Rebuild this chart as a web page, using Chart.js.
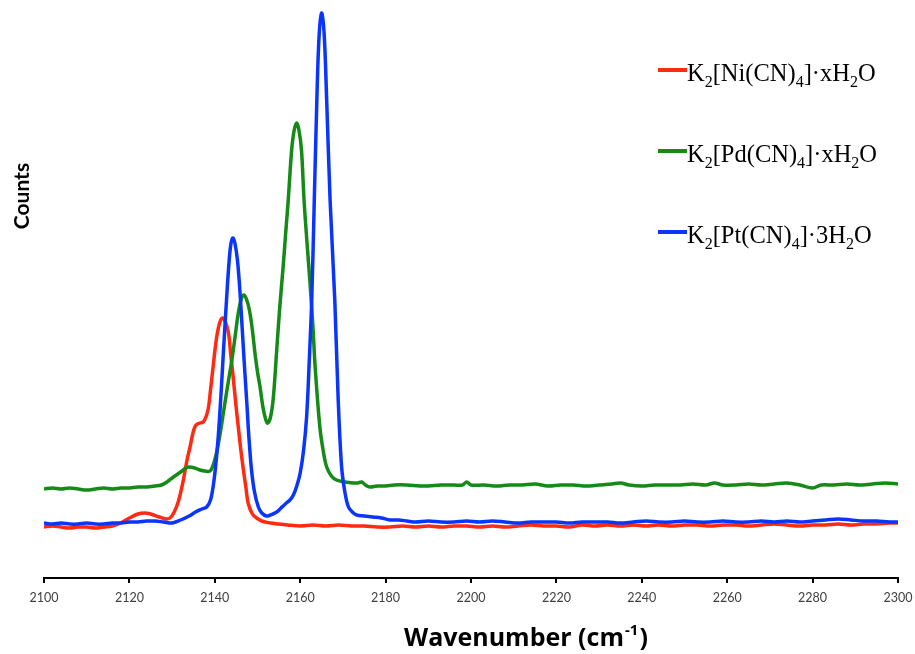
<!DOCTYPE html>
<html>
<head>
<meta charset="utf-8">
<script src="https://cdn.jsdelivr.net/npm/chart.js@4.4.1/dist/chart.umd.min.js"></script>
<style>
  html, body { margin: 0; padding: 0; background: #fff; }
  #wrap { width: 915px; height: 654px; }
</style>
</head>
<body>
<div id="wrap"><canvas id="spectrum" width="915" height="654"></canvas></div>
<script>
// [wavenumber, counts]
const niSpectrum = [
  [2100,51],[2102,52],[2104,51],[2106,50],[2108,51],[2110,51],[2112,50],[2114,51],[2116,52],[2118,55],
  [2120,60],[2122,64],[2123.5,65],[2125,64],[2127,61],[2128.5,59],[2129.5,60],[2130.5,66],[2131.5,77],
  [2132.5,95],[2133.5,118],[2134.2,131],[2135,147],[2135.6,153],[2136.5,155],[2137.3,156],[2138,162],
  [2138.5,170],[2139,188],[2139.6,211],[2140.1,230],[2140.6,245],[2141.2,256],[2141.8,260],[2142.4,257],
  [2143.2,245],[2143.7,225],[2144.3,201],[2144.9,175],[2145.5,151],[2146.1,128],[2146.7,108],[2147.3,90],
  [2147.8,75],[2148.8,64],[2149.8,60],[2151,57],[2153,55],[2155,54],[2157,53],[2160,52],
  [2163,53],[2166,52],[2169,53],[2172,52],[2175,52],[2178,51],[2181,51],[2184,52],[2187,51],[2190,52],
  [2193,51],[2196,52],[2199,52],[2202,51],[2205,52],[2208,51],[2211,52],[2214,53],[2217,52],[2220,52],
  [2223,51],[2226,53],[2229,52],[2232,53],[2235,52],[2238,53],[2241,52],[2244,53],[2247,52],[2250,53],
  [2253,53],[2256,52],[2259,53],[2262,53],[2265,52],[2268,53],[2271,54],[2274,53],[2277,52],[2280,53],
  [2283,53],[2286,54],[2289,53],[2292,54],[2295,54],[2298,55],[2300,55]
];

const pdSpectrum = [
  [2100,89],[2102,90],[2104,89],[2106,90],[2108,89],[2110,88],[2112,89],[2114,90],[2116,89],[2118,90],
  [2120,90],[2122,91],[2124,91],[2126,92],[2127.5,93],[2128.8,96],[2130.3,101],[2132,106],[2133.2,110],
  [2134,111],[2135.3,110],[2136.5,108],[2137.7,107],[2138.9,107],[2139.7,114],[2140.4,125],[2141.2,143],
  [2142,165],[2143,192],[2144,218],[2144.8,243],[2145.5,265],[2146.2,279],[2146.8,283],[2147.4,279],
  [2148.1,268],[2148.8,248],[2149.4,225],[2150,206],[2150.6,191],[2151.4,168],[2152.3,155],[2153,160],
  [2153.7,180],[2154.5,228],[2155.2,270],[2156,311],[2156.6,345],[2157.2,378],[2158,428],[2158.6,448],
  [2159.2,455],[2159.7,448],[2160.3,428],[2160.9,378],[2161.6,335],[2162.3,295],[2163,250],[2163.5,211],
  [2164.6,151],[2165.4,127],[2166.2,111],[2167.3,102],[2168.5,98],[2170.5,96],[2172.4,95],[2173.5,95],
  [2174.4,96],[2175.3,93],[2176.3,91],[2178,92],[2180,92],[2182,93],[2185,93],[2188,92],[2190,92],
  [2193,93],[2196,93],[2198,93],[2199,96],[2200,93],[2203,93],[2206,92],[2209,93],[2212,93],[2215,94],
  [2218,92],[2221,93],[2224,93],[2227,92],[2230,93],[2233,94],[2235,95],[2237,93],[2240,92],[2243,93],
  [2246,93],[2249,93],[2252,94],[2255,93],[2257,95],[2259,93],[2262,93],[2265,94],[2268,93],[2271,94],
  [2274,95],[2277,93],[2280,90],[2282,93],[2285,93],[2288,94],[2291,93],[2294,94],[2297,95],[2300,94]
];

const ptSpectrum = [
  [2100,55],[2102,54],[2104,55],[2106,54],[2108,54],[2110,55],[2112,54],[2114,54],[2116,55],[2118,55],
  [2120,56],[2122,56],[2124,57],[2126,57],[2128,56],[2130,55],[2132,58],[2134,62],[2135.5,66],[2137,69],
  [2138.1,71],[2139,78],[2139.6,91],[2140.2,112],[2140.8,141],[2141.4,180],[2142,225],[2142.6,268],
  [2143.2,308],[2143.7,332],[2144.2,340],[2144.7,335],[2145.3,318],[2145.8,292],[2146.3,258],[2146.9,215],
  [2147.5,175],[2148,140],[2148.6,108],[2149.3,86],[2150.2,71],[2151,65],[2152.1,62],[2153,63],[2154.5,66],
  [2155.5,70],[2156.5,74],[2157.6,78],[2158.4,83],[2159.2,92],[2160,105],[2160.8,128],[2161.5,161],
  [2162.1,215],[2162.7,278],[2163.3,378],[2163.9,478],[2164.4,540],[2165,565],[2165.6,545],[2166.2,478],
  [2167,378],[2168.1,278],[2168.9,178],[2169.7,111],[2170.5,85],[2171.3,71],[2172.2,66],[2173.2,63],
  [2175,62],[2177,61],[2179,60],[2181,58],[2183,58],[2185,57],[2187,56],[2190,57],[2193,56],[2196,56],
  [2199,57],[2202,56],[2205,57],[2208,56],[2211,55],[2214,56],[2217,56],[2220,56],[2223,55],[2226,56],
  [2229,56],[2232,56],[2235,55],[2238,56],[2241,57],[2244,56],[2247,56],[2250,57],[2253,56],[2256,56],
  [2259,57],[2262,56],[2265,56],[2268,57],[2271,56],[2274,57],[2277,56],[2280,57],[2283,58],[2286,59],
  [2289,58],[2292,57],[2295,57],[2298,56],[2300,56]
];

const seriesNames = ['K2[Ni(CN)4]·xH2O', 'K2[Pd(CN)4]·xH2O', 'K2[Pt(CN)4]·3H2O'];
const seriesColors = ['#ff2a12', '#168a16', '#0a35ff'];
const xTitle = 'Wavenumber (cm';
const xTitleSup = '-1';
const yTitle = 'Counts';

const toPoints = arr => arr.map(p => ({ x: p[0], y: p[1] }));

// draws formula text, digits after a letter / bracket become subscripts
function drawFormula(ctx, text, x, y, size) {
  let cx = x;
  for (let i = 0; i < text.length; i++) {
    const ch = text[i];
    const prev = i > 0 ? text[i - 1] : '';
    const isSub = /[0-9]/.test(ch) && /[A-Za-z\)\]]/.test(prev);
    if (isSub) {
      ctx.font = `${Math.round(size * 0.64)}px "Liberation Serif", "Times New Roman", serif`;
      ctx.fillText(ch, cx, y + size * 0.24);
    } else {
      ctx.font = `${size}px "Liberation Serif", "Times New Roman", serif`;
      ctx.fillText(ch, cx, y);
    }
    cx += ctx.measureText(ch).width;
  }
}

const extrasPlugin = {
  id: 'extras',
  afterDraw(chart) {
    const ctx = chart.ctx;
    ctx.save();
    // legend
    seriesNames.forEach((name, i) => {
      const ly = 70 + i * 81;
      ctx.strokeStyle = seriesColors[i];
      ctx.lineWidth = 4;
      ctx.beginPath();
      ctx.moveTo(658, ly);
      ctx.lineTo(687, ly);
      ctx.stroke();
      ctx.fillStyle = '#000';
      ctx.textBaseline = 'alphabetic';
      ctx.textAlign = 'left';
      drawFormula(ctx, name, 687, ly + 11, 24.5);
    });

    // x title
    ctx.fillStyle = '#000';
    ctx.font = 'bold 25px "Open Sans", sans-serif';
    ctx.textAlign = 'left';
    ctx.textBaseline = 'alphabetic';
    let tx = 404;
    ctx.fillText(xTitle, tx, 646);
    tx += ctx.measureText(xTitle).width + 1;
    ctx.font = 'bold 15px "Open Sans", sans-serif';
    ctx.fillText(xTitleSup, tx, 635);
    tx += ctx.measureText(xTitleSup).width + 1;
    ctx.font = 'bold 25px "Open Sans", sans-serif';
    ctx.fillText(')', tx, 646);

    // y title
    ctx.translate(22, 196);
    ctx.rotate(-Math.PI / 2);
    ctx.font = 'bold 21px "Lato", sans-serif';
    ctx.textAlign = 'center';
    ctx.textBaseline = 'middle';
    ctx.fillText(yTitle, 0, 0);
    ctx.restore();
  }
};

const datasets = [niSpectrum, pdSpectrum, ptSpectrum].map((arr, i) => ({
  label: seriesNames[i],
  data: toPoints(arr),
  borderColor: seriesColors[i],
  borderWidth: 3.5,
  pointRadius: 0,
  fill: false,
  tension: 0.35,
  order: 2 - i
}));

new Chart(document.getElementById('spectrum'), {
  type: 'line',
  data: { datasets },
  options: {
    responsive: false,
    animation: false,
    devicePixelRatio: 1,
    layout: { padding: { left: 44, right: 17, top: 8, bottom: 0 } },
    plugins: {
      legend: { display: false },
      tooltip: { enabled: false }
    },
    scales: {
      x: {
        type: 'linear',
        min: 2100,
        max: 2300,
        afterFit: (s) => { s.height = 76; s.paddingLeft = 0; s.paddingRight = 0; },
        border: { display: true, color: '#000', width: 2 },
        grid: { display: true, drawOnChartArea: false, drawTicks: true, tickLength: 5, color: '#000', lineWidth: 2 },
        ticks: {
          stepSize: 20,
          autoSkip: false,
          maxRotation: 0,
          padding: 7,
          color: '#404040',
          font: { family: 'Lato', size: 12.5 },
          callback: (v) => String(v)
        }
      },
      y: {
        display: false,
        min: 0,
        max: 570
      }
    }
  },
  plugins: [extrasPlugin]
});
</script>
</body>
</html>
